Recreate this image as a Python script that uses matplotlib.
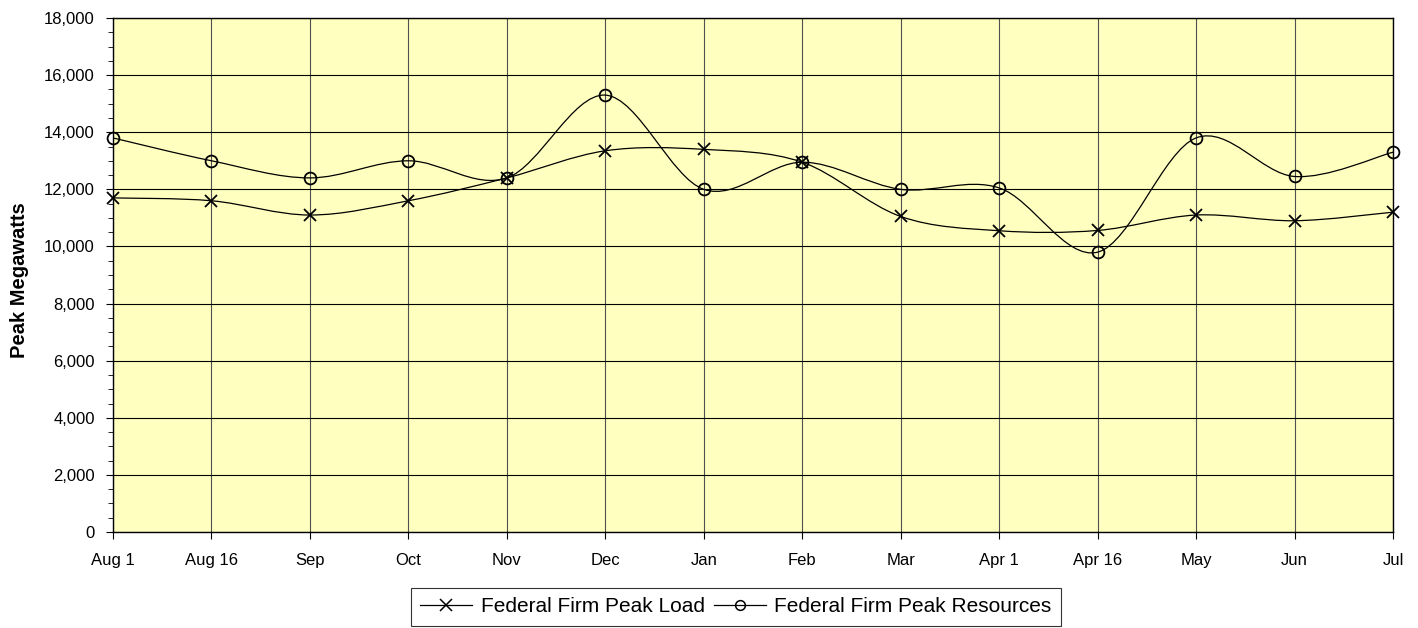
import matplotlib
matplotlib.use("Agg")
import matplotlib.pyplot as plt
from matplotlib.path import Path
from matplotlib.patches import PathPatch
from matplotlib.lines import Line2D
from matplotlib.ticker import MultipleLocator, FuncFormatter

plt.rcParams['font.family'] = ['Liberation Sans', 'DejaVu Sans']

# Data
months = ["Aug 1", "Aug 16", "Sep", "Oct", "Nov", "Dec", "Jan", "Feb",
          "Mar", "Apr 1", "Apr 16", "May", "Jun", "Jul"]
peak_load = [11700, 11600, 11100, 11600, 12400, 13350, 13400, 12950,
             11050, 10550, 10560, 11100, 10900, 11200]
peak_resources = [13800, 13000, 12400, 13000, 12400, 15300, 12000, 12950,
                  12000, 12050, 9800, 13800, 12450, 13300]


def smooth_path(xs, ys):
    """Excel-style smoothed line as a cubic Bezier path."""
    pts = list(zip(xs, ys))
    n = len(pts)
    verts = [pts[0]]
    codes = [Path.MOVETO]
    for i in range(n - 1):
        p0 = pts[max(i - 1, 0)]
        p1 = pts[i]
        p2 = pts[i + 1]
        p3 = pts[min(i + 2, n - 1)]
        c1 = (p1[0] + (p2[0] - p0[0]) / 6, p1[1] + (p2[1] - p0[1]) / 6)
        c2 = (p2[0] - (p3[0] - p1[0]) / 6, p2[1] - (p3[1] - p1[1]) / 6)
        verts += [c1, c2, p2]
        codes += [Path.CURVE4] * 3
    return Path(verts, codes)


fig = plt.figure(figsize=(14.18, 6.28), dpi=100)
ax = fig.add_axes([113 / 1418, 1 - 532 / 628, 1280 / 1418, 514 / 628])
ax.set_facecolor('#FFFFC0')

x = list(range(len(months)))

for series, mk in [(peak_load, 'x'), (peak_resources, 'o')]:
    ax.add_patch(PathPatch(smooth_path(x, series), fill=False,
                           edgecolor='black', linewidth=0.9, zorder=3))
    ax.plot(x, series, linestyle='none', marker=mk, markersize=8.5,
            markeredgewidth=1.3, markerfacecolor='none',
            markeredgecolor='black', zorder=4, clip_on=False)

ax.set_xlim(0, len(months) - 1)
ax.set_ylim(0, 18000)
ax.set_xticks(x)
ax.set_xticklabels(months, fontsize=12)
ax.yaxis.set_major_locator(MultipleLocator(2000))
ax.yaxis.set_minor_locator(MultipleLocator(500))
ax.yaxis.set_major_formatter(FuncFormatter(lambda v, p: f"{int(v):,}"))
ax.tick_params(axis='y', which='major', labelsize=12, length=5, pad=8, direction='out')
ax.tick_params(axis='y', which='minor', length=3.5, direction='out')
ax.tick_params(axis='x', length=5, pad=10, direction='out')

ax.grid(axis='y', which='major', color='black', linewidth=0.8)
ax.grid(axis='x', color='#505050', linewidth=0.8)
ax.set_axisbelow(True)
for s in ax.spines.values():
    s.set_linewidth(1.0)
    s.set_color('black')

ax.set_ylabel('Peak Megawatts', fontsize=14.5, fontweight='bold')
ax.yaxis.set_label_coords(-0.066, 0.49)

handles = [
    Line2D([], [], color='black', linewidth=0.9, marker='x', markersize=8,
           markeredgewidth=1.1, markerfacecolor='none'),
    Line2D([], [], color='black', linewidth=0.9, marker='o', markersize=7,
           markeredgewidth=1.1, markerfacecolor='none'),
]
leg = fig.legend(handles, ['Federal Firm Peak Load', 'Federal Firm Peak Resources'],
                 loc='upper center', bbox_to_anchor=(736 / 1418, 1 - 588 / 628),
                 ncol=2, fontsize=15, frameon=True, fancybox=False,
                 handlelength=2.5, handletextpad=0.4, columnspacing=0.45,
                 borderpad=0.45, borderaxespad=0)
leg.get_frame().set_edgecolor('black')
leg.get_frame().set_linewidth(0.8)

fig.savefig('out.png', dpi=100)
